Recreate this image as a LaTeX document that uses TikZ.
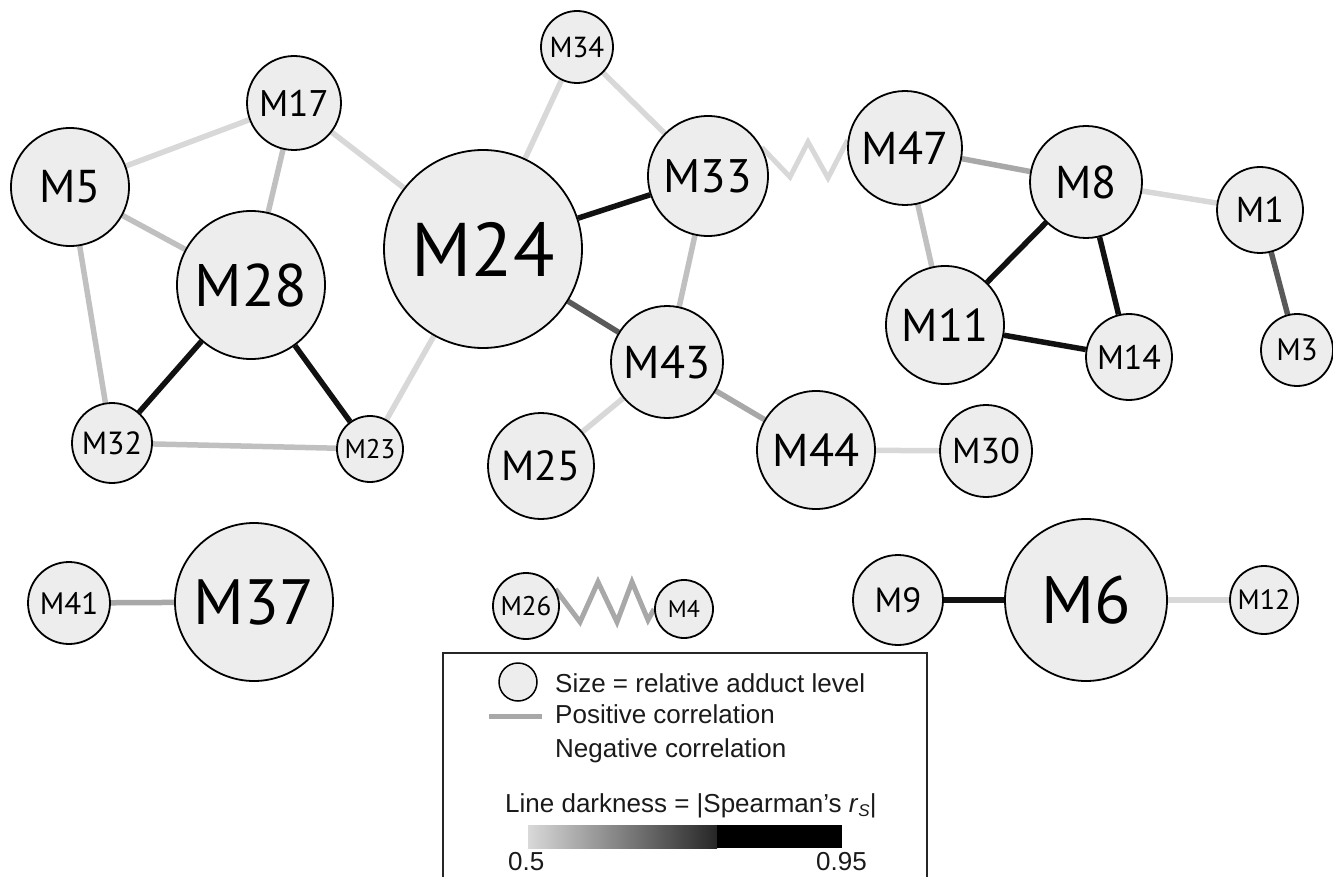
\documentclass[tikz,border=0pt]{standalone}
\usepackage{fontspec}
\setmainfont{Liberation Sans}
\newfontfamily\lblfont{PT Sans}
\usetikzlibrary{calc}
\pgfdeclarelayer{bg}
\pgfsetlayers{bg,main}
\definecolor{nfill}{HTML}{EDEDED}
\definecolor{cA}{HTML}{D8D8D8}
\definecolor{cB}{HTML}{C0C0C0}
\definecolor{cC}{HTML}{A8A8A8}
\definecolor{cD}{HTML}{5A5A5A}
\definecolor{cK}{HTML}{111111}
\definecolor{legtext}{HTML}{1A1A1A}
\newcommand\lab[1]{\lblfont\fontsize{#1}{#1}\selectfont}
\tikzset{
  nd/.style={circle, draw=black, line width=1.8pt, fill=nfill, inner sep=0pt, text=black},
  edge/.style={line width=5.5pt},
  zz/.style={line width=5pt, line join=miter},
  legfont/.style={font=\fontsize{26}{30}\selectfont, text=legtext, inner sep=0pt}
}
\begin{document}
\begin{tikzpicture}[x=1pt,y=-1pt]
\useasboundingbox (0,0) rectangle (1333,877);
% nodes
\node[nd, minimum size=118, font=\lab{46}] (M5)  at (70,187) {M5};
\node[nd, minimum size=94,  font=\lab{37}] (M17) at (294,103) {M17};
\node[nd, minimum size=148, font=\lab{60}] (M28) at (251,285) {M28};
\node[nd, minimum size=80,  font=\lab{32}] (M32) at (112,443) {M32};
\node[nd, minimum size=66,  font=\lab{27}] (M23) at (370,449) {M23};
\node[nd, minimum size=198, font=\lab{76}] (M24) at (483,249) {M24};
\node[nd, minimum size=72,  font=\lab{29}] (M34) at (577,47) {M34};
\node[nd, minimum size=120, font=\lab{47}] (M33) at (708,176) {M33};
\node[nd, minimum size=112, font=\lab{46}] (M43) at (667,362) {M43};
\node[nd, minimum size=106, font=\lab{42}] (M25) at (541,466) {M25};
\node[nd, minimum size=118, font=\lab{46}] (M44) at (816,450) {M44};
\node[nd, minimum size=92,  font=\lab{36}] (M30) at (986,451) {M30};
\node[nd, minimum size=114, font=\lab{46}] (M47) at (905,148) {M47};
\node[nd, minimum size=112, font=\lab{46}] (M8)  at (1086,182) {M8};
\node[nd, minimum size=86,  font=\lab{36}] (M1)  at (1260,210) {M1};
\node[nd, minimum size=72,  font=\lab{31}] (M3)  at (1297,350) {M3};
\node[nd, minimum size=118, font=\lab{46}] (M11) at (945,325) {M11};
\node[nd, minimum size=86,  font=\lab{34}] (M14) at (1129,357) {M14};
\node[nd, minimum size=82,  font=\lab{31}] (M41) at (69,603) {M41};
\node[nd, minimum size=158, font=\lab{64}] (M37) at (254,602) {M37};
\node[nd, minimum size=66,  font=\lab{27}] (M26) at (526,606) {M26};
\node[nd, minimum size=58,  font=\lab{24}] (M4)  at (684,609) {M4};
\node[nd, minimum size=90,  font=\lab{35}] (M9)  at (898,600) {M9};
\node[nd, minimum size=162, font=\lab{67}] (M6)  at (1086,600) {M6};
\node[nd, minimum size=68,  font=\lab{28}] (M12) at (1264,600) {M12};
% edges
\begin{pgfonlayer}{bg}
\draw[edge, cA] (M5) -- (M17);
\draw[edge, cB] (M5) -- (M28);
\draw[edge, cB] (M5) -- (M32);
\draw[edge, cB] (M17) -- (M28);
\draw[edge, cA] (M17) -- (M24);
\draw[edge, cK] (M28) -- (M32);
\draw[edge, cK] (M28) -- (M23);
\draw[edge, cB] (M32) -- (M23);
\draw[edge, cA] (M23) -- (M24);
\draw[edge, cA] (M34) -- (M24);
\draw[edge, cA] (M34) -- (M33);
\draw[edge, cK] (M24) -- (M33);
\draw[edge, cD] (M24) -- (M43);
\draw[edge, cB] (M33) -- (M43);
\draw[edge, cA] (M43) -- (M25);
\draw[edge, cC] (M43) -- (M44);
\draw[edge, cA] (M44) -- (M30);
\draw[edge, cC] (M47) -- (M8);
\draw[edge, cB] (M47) -- (M11);
\draw[edge, cK] (M8) -- (M11);
\draw[edge, cK] (M8) -- (M14);
\draw[edge, cK] (M11) -- (M14);
\draw[edge, cA] (M8) -- (M1);
\draw[edge, cD] (M1) -- (M3);
\draw[edge, cC] (M41) -- (M37);
\draw[edge, cK] (M9) -- (M6);
\draw[edge, cA] (M6) -- (M12);
\draw[zz, cA] (M33.28) -- (790,177) -- (808,142) -- (828,178) -- (M47.172);
\draw[zz, cC] (M26.30) -- (580,622) -- (598,582) -- (617,622) -- (632,582) -- (648,620) -- (M4.west);
\end{pgfonlayer}
% legend
\draw[line width=1.3pt, black!85] (443,877) -- (443,653) -- (927,653) -- (927,877);
\node[nd, minimum size=38, line width=1.5pt] (Lc) at (518,682) {};
\node[legfont, anchor=base west] (Lsize) at (555,692) {Size = relative adduct level};
\coordinate (Lp1) at (489,716);
\coordinate (Lp2) at (542,716);
\draw[line width=5pt, cC] (Lp1) -- (Lp2);
\node[legfont, anchor=base west] (Lpos) at (555,723) {Positive correlation};
\node[legfont, anchor=base west] (Lneg) at (555,757) {Negative correlation};
\node[legfont, anchor=base west] (Ldark) at (505,812) {Line darkness = |Spearman's \textit{r}\raisebox{-0.3ex}{\fontsize{17}{17}\selectfont\textit{S}}|};
\shade[left color=black!15, right color=black!85] (528,825) rectangle (717,848);
\fill[black] (717,825) rectangle (842,848);
\node[legfont, anchor=base west] (L05) at (508,870) {0.5};
\node[legfont, anchor=base east] (L095) at (867,870) {0.95};
\end{tikzpicture}
\end{document}
